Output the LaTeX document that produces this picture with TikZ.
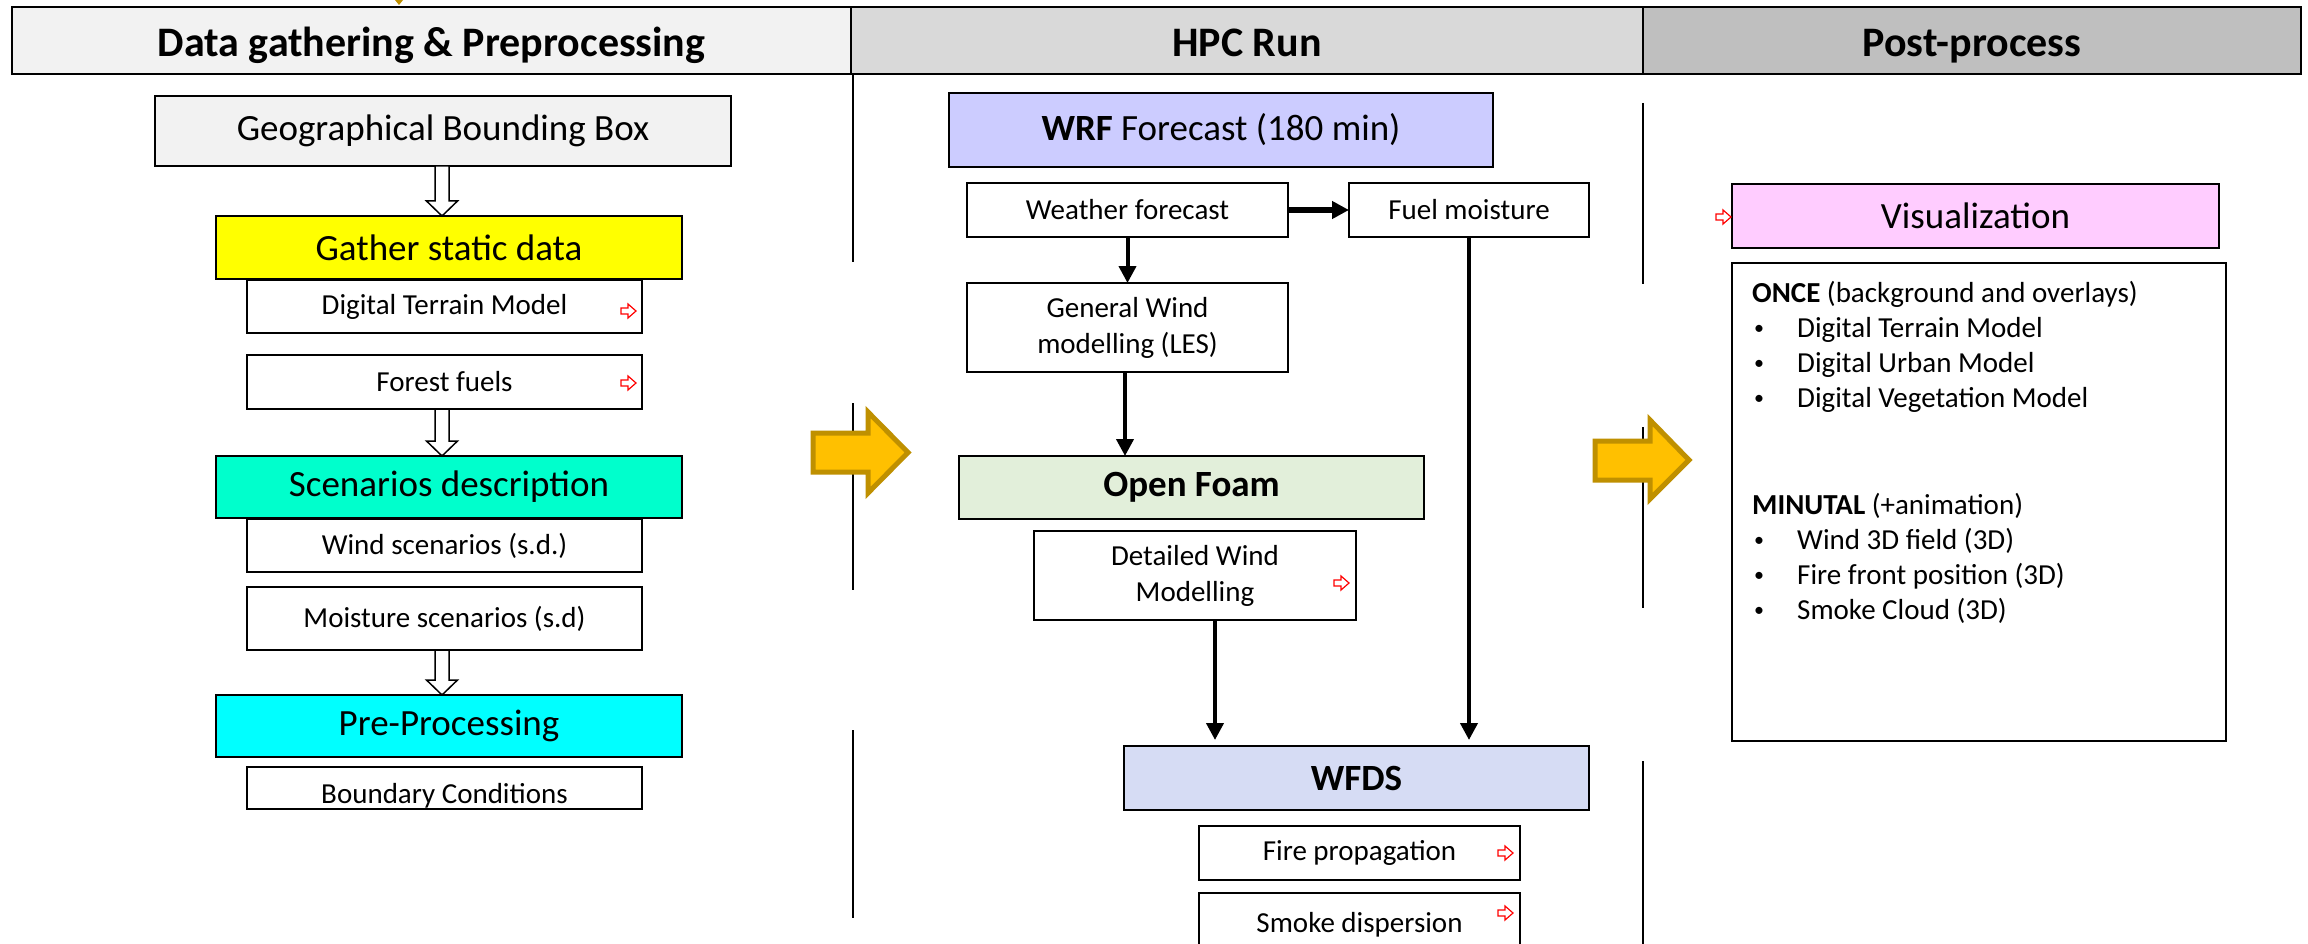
\documentclass[tikz,border=0pt]{standalone}
\usepackage{fontspec}
\setmainfont{Carlito}
\usetikzlibrary{arrows.meta,calc}
\definecolor{hdA}{HTML}{F2F2F2}
\definecolor{hdB}{HTML}{D9D9D9}
\definecolor{hdC}{HTML}{BFBFBF}
\definecolor{geoF}{HTML}{F2F2F2}
\definecolor{ylw}{HTML}{FFFF00}
\definecolor{mint}{HTML}{00FFCC}
\definecolor{cyn}{HTML}{00FFFF}
\definecolor{wrfF}{HTML}{CCCCFF}
\definecolor{ofF}{HTML}{E2EFDA}
\definecolor{wfdsF}{HTML}{D6DCF4}
\definecolor{visF}{HTML}{FFCCFF}
\definecolor{gold}{HTML}{FFC000}
\definecolor{goldD}{HTML}{BF9000}
\newcommand\harr[2]{\draw[hollow] let \p1=(#1.south), \p2=(#2.north) in
  (442pt-7pt,\y1) -- (442pt+7pt,\y1) -- (442pt+7pt,\y2+15pt) -- (442pt+15.5pt,\y2+15pt) -- (442pt,\y2) -- (442pt-15.5pt,\y2+15pt) -- (442pt-7pt,\y2+15pt) -- cycle;}
\newcommand\rarrow[2]{\draw[rarr] (#1,#2-3) -- (#1+7,#2-3) -- (#1+7,#2-7) -- (#1+15,#2) -- (#1+7,#2+7) -- (#1+7,#2+3) -- (#1,#2+3) -- cycle;}
\begin{document}
\begin{tikzpicture}[x=1pt,y=-1pt,
  bx/.style={draw=black, line width=2pt, inner sep=0pt, outer sep=0pt},
  bigt/.style={font=\fontsize{37}{44}\selectfont},
  smt/.style={font=\fontsize{29}{36}\selectfont},
  hdr/.style={bx, font=\fontsize{42}{48}\selectfont\bfseries, minimum height=67pt, text height=40pt, text depth=7pt},
  sepl/.style={line width=1.5pt},
  flow/.style={line width=4pt, -{Triangle[width=17pt,length=17pt]}},
  hollow/.style={draw=black, fill=white, line width=1.5pt},
  yarr/.style={fill=gold, draw=goldD, line width=5pt, line join=miter},
  rarr/.style={draw=red, fill=white, line width=1.2pt},
  txt/.style={smt, anchor=base west, inner sep=0pt},
  bul/.style={font=\fontsize{20}{22}\selectfont, anchor=base west, inner sep=0pt, yshift=3pt}
]
\useasboundingbox (0,0) rectangle (2308,944);
\clip (0,0) rectangle (2308,944);
\fill[white] (0,0) rectangle (2308,944);

% tiny tick at top
\fill[goldD] (395,0) -- (403,0) -- (399,5) -- cycle;

% headers
\node[hdr, fill=hdA, minimum width=839pt] (h1) at (431.5,40.5) {Data gathering \& Preprocessing};
\node[hdr, fill=hdB, minimum width=792pt] (h2) at (1247,40.5) {HPC Run};
\node[hdr, fill=hdC, minimum width=658pt] (h3) at (1972,40.5) {Post-process};

% separators
\draw[sepl] (853,74) -- (853,262);
\draw[sepl] (853,403) -- (853,590);
\draw[sepl] (853,730) -- (853,918);
\draw[sepl] (1643,103) -- (1643,284);
\draw[sepl] (1643,427) -- (1643,608);
\draw[sepl] (1643,761) -- (1643,944);

% left column
\node[bx, bigt, fill=geoF, minimum width=576pt, minimum height=70pt] (geo) at (443,131) {Geographical Bounding Box};
\node[bx, bigt, fill=ylw, minimum width=466pt, minimum height=63pt] (gat) at (449,247.5) {Gather static data};
\node[bx, smt, fill=white, minimum width=395pt, minimum height=53pt] (dtm) at (444.5,306.5) {Digital Terrain Model};
\node[bx, smt, fill=white, minimum width=395pt, minimum height=54pt] (ff) at (444.5,382) {Forest fuels};
\node[bx, bigt, fill=mint, minimum width=466pt, minimum height=62pt] (scen) at (449,487) {Scenarios description};
\node[bx, smt, fill=white, minimum width=395pt, minimum height=53pt] (wind) at (444.5,545.5) {Wind scenarios (s.d.)};
\node[bx, smt, fill=white, minimum width=395pt, minimum height=63pt] (moist) at (444.5,618.5) {Moisture scenarios (s.d)};
\node[bx, bigt, fill=cyn, minimum width=466pt, minimum height=62pt] (pre) at (449,726) {Pre-Processing};
\node[bx, smt, fill=white, minimum width=395pt, minimum height=42pt] (bc) at (444.5,788) {\raisebox{-15pt}[0pt][0pt]{Boundary Conditions}};
\harr{geo}{gat}
\harr{ff}{scen}
\harr{moist}{pre}
\rarrow{621}{311}
\rarrow{621}{383}

% yellow arrows
\draw[yarr] (813,433) -- (868,433) -- (868,412) -- (908,452.5) -- (868,493) -- (868,472) -- (813,472) -- cycle;
\draw[yarr] (1595,441) -- (1650,441) -- (1650,420) -- (1689,460) -- (1650,499) -- (1650,480) -- (1595,480) -- cycle;

% middle column
\node[bx, bigt, fill=wrfF, minimum width=544pt, minimum height=74pt] (wrf) at (1221,130) {\textbf{WRF} Forecast (180 min)};
\node[bx, smt, fill=white, minimum width=321pt, minimum height=54pt] (wf) at (1127.5,210) {Weather forecast};
\node[bx, smt, fill=white, minimum width=240pt, minimum height=54pt] (fm) at (1469,210) {Fuel moisture};
\node[bx, smt, fill=white, minimum width=321pt, minimum height=89pt, align=center] (gw) at (1127.5,327.5) {General Wind\\modelling (LES)};
\node[bx, bigt, fill=ofF, minimum width=465pt, minimum height=63pt] (of) at (1191.5,487.5) {\textbf{Open Foam}};
\node[bx, smt, fill=white, minimum width=322pt, minimum height=89pt, align=center] (dw) at (1195,575.5) {Detailed Wind\\Modelling};
\node[bx, bigt, fill=wfdsF, minimum width=465pt, minimum height=64pt] (wfds) at (1356.5,778) {\textbf{WFDS}};
\node[bx, smt, fill=white, minimum width=321pt, minimum height=54pt] (fp) at (1359.5,853) {Fire propagation};
\node[bx, smt, fill=white, minimum width=321pt, minimum height=70pt] (sd) at (1359.5,928) {\raisebox{-4pt}[0pt][0pt]{Smoke dispersion}};
\rarrow{1334}{583}
\rarrow{1498}{853}
\rarrow{1498}{913}

\draw[flow, line width=6pt] (wf.east) -- (fm.west);
\draw[flow] (wf.south) -- (gw.north);
\draw[flow] ([xshift=-2.5pt]gw.south) -- ([xshift=-2.5pt]gw.south |- of.north);
\draw[flow] ([xshift=20pt]dw.south) -- ([xshift=20pt,yshift=6pt]dw.south |- wfds.north);
\draw[flow] (fm.south) -- ([yshift=6pt]fm.south |- wfds.north);

% right column
\node[bx, bigt, fill=visF, minimum width=487pt, minimum height=64pt] (vis) at (1975.5,216) {Visualization};
\rarrow{1716}{217}
\node[bx, fill=white, minimum width=494pt, minimum height=478pt] (big) at (1979,502) {};
\node[txt] (once) at (1752,302) {\textbf{ONCE} (background and overlays)};
\node[bul] (ba) at (1754,337) {•};
\node[txt] (ta) at (1797,337) {Digital Terrain Model};
\node[bul] (bb) at (1754,372) {•};
\node[txt] (tb) at (1797,372) {Digital Urban Model};
\node[bul] (bcc) at (1754,407) {•};
\node[txt] (tc) at (1797,407) {Digital Vegetation Model};
\node[txt] (minu) at (1752,514) {\textbf{MINUTAL} (+animation)};
\node[bul] (bd) at (1754,549) {•};
\node[txt] (td) at (1797,549) {Wind 3D field (3D)};
\node[bul] (be) at (1754,584) {•};
\node[txt] (te) at (1797,584) {Fire front position (3D)};
\node[bul] (bf) at (1754,619) {•};
\node[txt] (tf) at (1797,619) {Smoke Cloud (3D)};
\end{tikzpicture}
\end{document}
